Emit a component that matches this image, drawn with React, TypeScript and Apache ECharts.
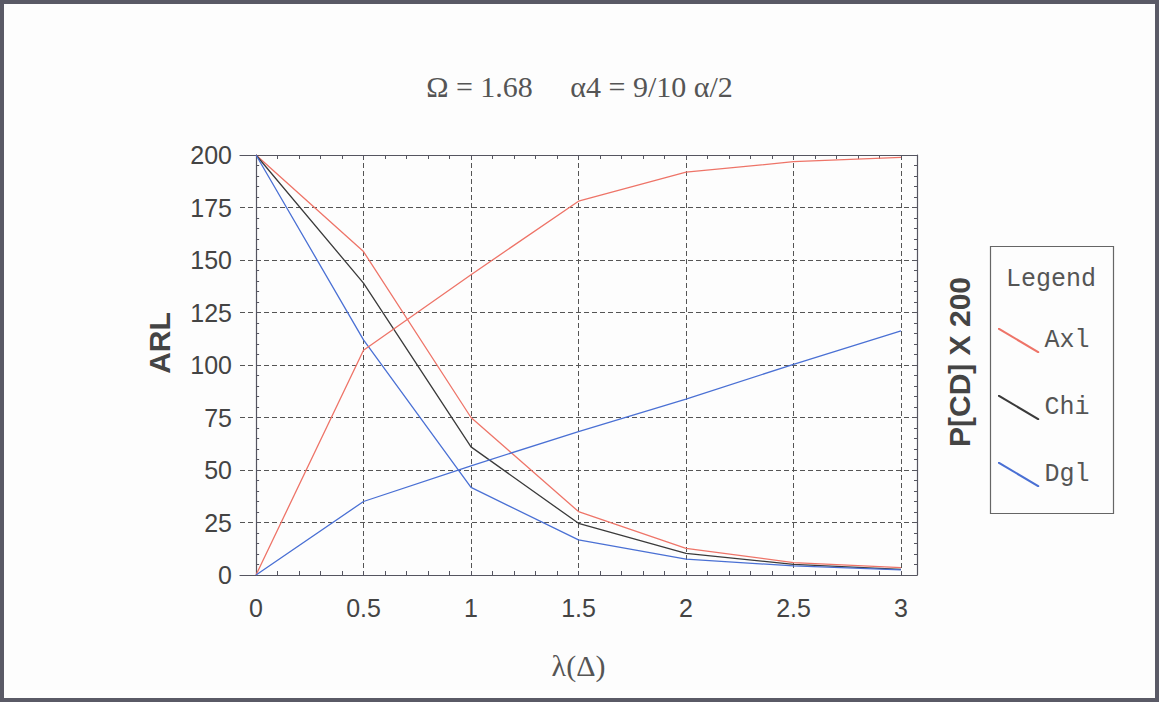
import React, { useEffect, useRef } from "react";
import * as echarts from "echarts";

// ---- data ----
const lambdaValues = [0, 0.5, 1, 1.5, 2, 2.5, 3];
const axlArl = [200, 154, 75, 30.2, 12.7, 5.9, 3.5];
const chiArl = [200, 139, 61, 24.6, 10.3, 5.1, 2.7];
const dglArl = [200, 112, 41.7, 16.7, 7.6, 4.3, 2.4];
const axlPcd = [0, 107, 143, 178, 191.8, 196.8, 198.9];
const dglPcd = [0, 35, 52, 68.3, 83.8, 100.3, 116.2];
const xTickLabels = [0, 0.5, 1, 1.5, 2, 2.5, 3];
const xMinorTicks = [
  0, 0.1, 0.2, 0.3, 0.4, 0.5, 0.6, 0.7, 0.8, 0.9, 1, 1.1, 1.2, 1.3, 1.4, 1.5,
  1.6, 1.7, 1.8, 1.9, 2, 2.1, 2.2, 2.3, 2.4, 2.5, 2.6, 2.7, 2.8, 2.9, 3,
];
const legendNames = ["Axl", "Chi", "Dgl"];
const titleText = "Ω = 1.68     α4 = 9/10 α/2";

const RED = "#ee7468";
const BLACK = "#3a3a3a";
const BLUE = "#4a70d4";
const AXIS = "#555560";

const pairs = (ys: number[]) => lambdaValues.map((x, i) => [x, ys[i]]);

export default function App() {
  const ref = useRef<HTMLDivElement>(null);
  useEffect(() => {
    if (!ref.current) return;
    const chart = echarts.init(ref.current, undefined, { renderer: "svg" });
    const lineSeries = (name: string, ys: number[], color: string) => ({
      type: "line",
      name,
      data: pairs(ys),
      xAxisIndex: 0,
      yAxisIndex: 0,
      symbol: "none",
      lineStyle: { color, width: 1.3 },
      itemStyle: { color },
      z: 5,
    });
    const sans = "'Liberation Sans', Arial, sans-serif";
    const serif = "'Liberation Serif', 'Times New Roman', serif";
    const mono = "'Liberation Mono', monospace";
    chart.setOption({
      animation: false,
      backgroundColor: "#fdfdfd",
      title: {
        text: titleText,
        left: "center",
        top: 66,
        textStyle: {
          fontFamily: serif,
          fontWeight: "normal",
          fontSize: 30,
          color: "#555",
        },
      },
      legend: {
        data: legendNames,
        orient: "vertical",
        left: 993,
        top: 323,
        itemWidth: 42,
        itemHeight: 25,
        itemGap: 42,
        icon: "path://M0,0 L1.6,0 L42,24 L42,25.5 L40.4,25.5 L0,1.5 Z",
        textStyle: {
          fontFamily: mono,
          fontSize: 25,
          color: "#555",
        },
        selectedMode: false,
      },
      grid: [
        { left: 256, right: 258, top: 155, bottom: 127 },
        { left: 240, right: 242, top: 155, bottom: 127 },
      ],
      xAxis: [
        {
          type: "value",
          gridIndex: 0,
          min: 0,
          max: 3,
          interval: 0.5,
          axisLine: { show: false },
          axisTick: { show: false },
          axisLabel: {
            show: true,
            margin: 20,
            fontFamily: sans,
            fontSize: 25,
            color: "#444",
            formatter: (v: number) => (xTickLabels.includes(v) ? String(v) : ""),
          },
          splitLine: {
            show: true,
            lineStyle: { color: "#555", type: [5, 3], width: 1 },
          },
          name: "λ(Δ)",
          nameLocation: "middle",
          nameGap: 75,
          nameTextStyle: {
            fontFamily: serif,
            fontSize: 30,
            color: "#555",
          },
        },
        {
          type: "value",
          gridIndex: 1,
          position: "bottom",
          min: -0.075,
          max: 3.075,
          axisLine: { show: true, lineStyle: { color: AXIS, width: 1.2 } },
          axisTick: {
            show: true,
            inside: true,
            length: 4,
            customValues: xMinorTicks,
            lineStyle: { color: AXIS },
          },
          axisLabel: { show: false },
          splitLine: { show: false },
        },
        {
          type: "value",
          gridIndex: 1,
          position: "top",
          min: -0.075,
          max: 3.075,
          axisLine: { show: true, onZero: false, lineStyle: { color: AXIS, width: 1.2 } },
          axisTick: {
            show: true,
            inside: true,
            length: 4,
            customValues: xMinorTicks,
            lineStyle: { color: AXIS },
          },
          axisLabel: { show: false },
          splitLine: { show: false },
        },
      ],
      yAxis: [
        { type: "value", gridIndex: 0, min: 0, max: 200, interval: 25, show: false },
        {
          type: "value",
          gridIndex: 1,
          position: "left",
          min: 0,
          max: 200,
          interval: 25,
          axisLine: { show: true, lineStyle: { color: AXIS, width: 1.2 } },
          axisTick: { show: true, inside: true, length: 4, lineStyle: { color: AXIS } },
          minorTick: { show: true, splitNumber: 5, length: 3, lineStyle: { color: AXIS } },
          axisLabel: {
            show: true,
            margin: 8,
            fontFamily: sans,
            fontSize: 25,
            color: "#444",
          },
          splitLine: {
            show: true,
            lineStyle: { color: "#555", type: [5, 3], width: 1 },
          },
          name: "ARL",
          nameLocation: "middle",
          nameGap: 66,
          nameTextStyle: {
            fontFamily: sans,
            fontWeight: "bold",
            fontSize: 30,
            color: "#444",
            padding: [0, 0, 0, 44],
          },
        },
        {
          type: "value",
          gridIndex: 1,
          position: "right",
          min: 0,
          max: 200,
          interval: 25,
          axisLine: { show: true, onZero: false, lineStyle: { color: AXIS, width: 1.2 } },
          axisTick: { show: true, inside: true, length: 4, lineStyle: { color: AXIS } },
          minorTick: { show: true, splitNumber: 5, length: 3, lineStyle: { color: AXIS } },
          axisLabel: { show: false },
          splitLine: { show: false },
          name: "P[CD] X 200",
          nameLocation: "middle",
          nameGap: 27,
          nameTextStyle: {
            fontFamily: sans,
            fontWeight: "bold",
            fontSize: 30,
            color: "#444",
            padding: [0, 0, 0, 6],
          },
        },
      ],
      graphic: [
        {
          type: "rect",
          shape: { x: 2, y: 2, width: 1155, height: 698 },
          style: { fill: "none", stroke: "#5a5a66", lineWidth: 4 },
          silent: true,
        },
        {
          type: "rect",
          shape: { x: 990.5, y: 246.5, width: 123, height: 267 },
          style: { fill: "none", stroke: "#666", lineWidth: 1.2 },
          silent: true,
        },
        {
          type: "text",
          x: 1051,
          y: 279,
          style: {
            text: "Legend",
            fontFamily: mono,
            fontSize: 25,
            fill: "#555",
            textAlign: "center",
            textVerticalAlign: "middle",
          },
          silent: true,
        },
      ],
      series: [
        lineSeries("Axl", axlArl, RED),
        lineSeries("Chi", chiArl, BLACK),
        lineSeries("Dgl", dglArl, BLUE),
        lineSeries("Axl", axlPcd, RED),
        lineSeries("Dgl", dglPcd, BLUE),
      ],
    });
    return () => chart.dispose();
  }, []);
  return (
    <div
      ref={ref}
      style={{ position: "fixed", left: 0, top: 0, width: 1159, height: 702 }}
    />
  );
}
